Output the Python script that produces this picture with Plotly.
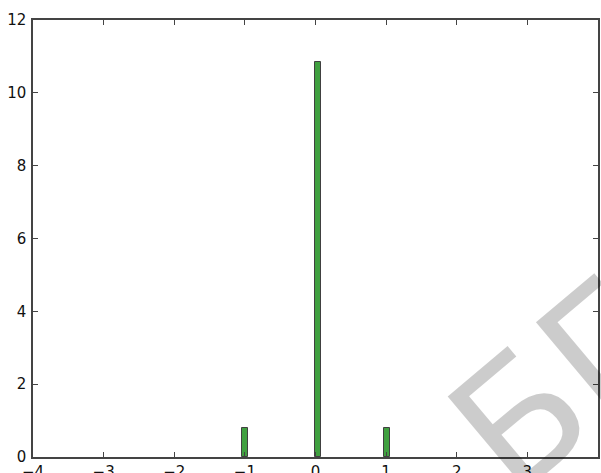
import plotly.graph_objects as go

bin_centers = [-0.994, 0.042, 1.006]
counts = [0.8, 10.85, 0.8]
bar_width = 0.085
x_ticks = [-4, -3, -2, -1, 0, 1, 2, 3, 4]
x_labels = ["\u22124", "\u22123", "\u22122", "\u22121", "0", "1", "2", "3", "4"]
y_ticks = [0, 2, 4, 6, 8, 10, 12]
y_labels = ["0", "2", "4", "6", "8", "10", "12"]

fig = go.Figure()
fig.add_trace(go.Bar(
    x=bin_centers, y=counts, width=bar_width,
    marker=dict(color="rgb(64,160,64)", line=dict(color="rgb(64,64,64)", width=1)),
))

axis_common = dict(
    showgrid=False, zeroline=False, showline=True, linecolor="#444", linewidth=1.5,
    mirror="allticks", ticks="inside", ticklen=5, tickcolor="#444", tickwidth=1,
    tickfont=dict(family="DejaVu Sans", size=15, color="#111"), automargin=False,
)
fig.update_xaxes(range=[-4, 4], tickvals=x_ticks, ticktext=x_labels, ticklabelstandoff=0, **axis_common)
fig.update_yaxes(range=[0, 12], tickvals=y_ticks, ticktext=y_labels, ticklabelstandoff=2, **axis_common)

fig.add_annotation(
    text="БГ", xref="paper", yref="paper", x=0.933, y=0.162,
    xanchor="center", yanchor="middle", showarrow=False, textangle=-40,
    font=dict(family="DejaVu Sans", size=168, color="rgba(0,0,0,0.2)"),
)

fig.update_layout(
    width=601, height=473, margin=dict(l=33, r=3, t=20, b=16, autoexpand=False),
    paper_bgcolor="white", plot_bgcolor="white", showlegend=False, bargap=0,
)
fig.write_html("out.html", config={"displayModeBar": False},
               post_script="document.body.style.margin='0px';document.body.style.overflow='hidden';")
